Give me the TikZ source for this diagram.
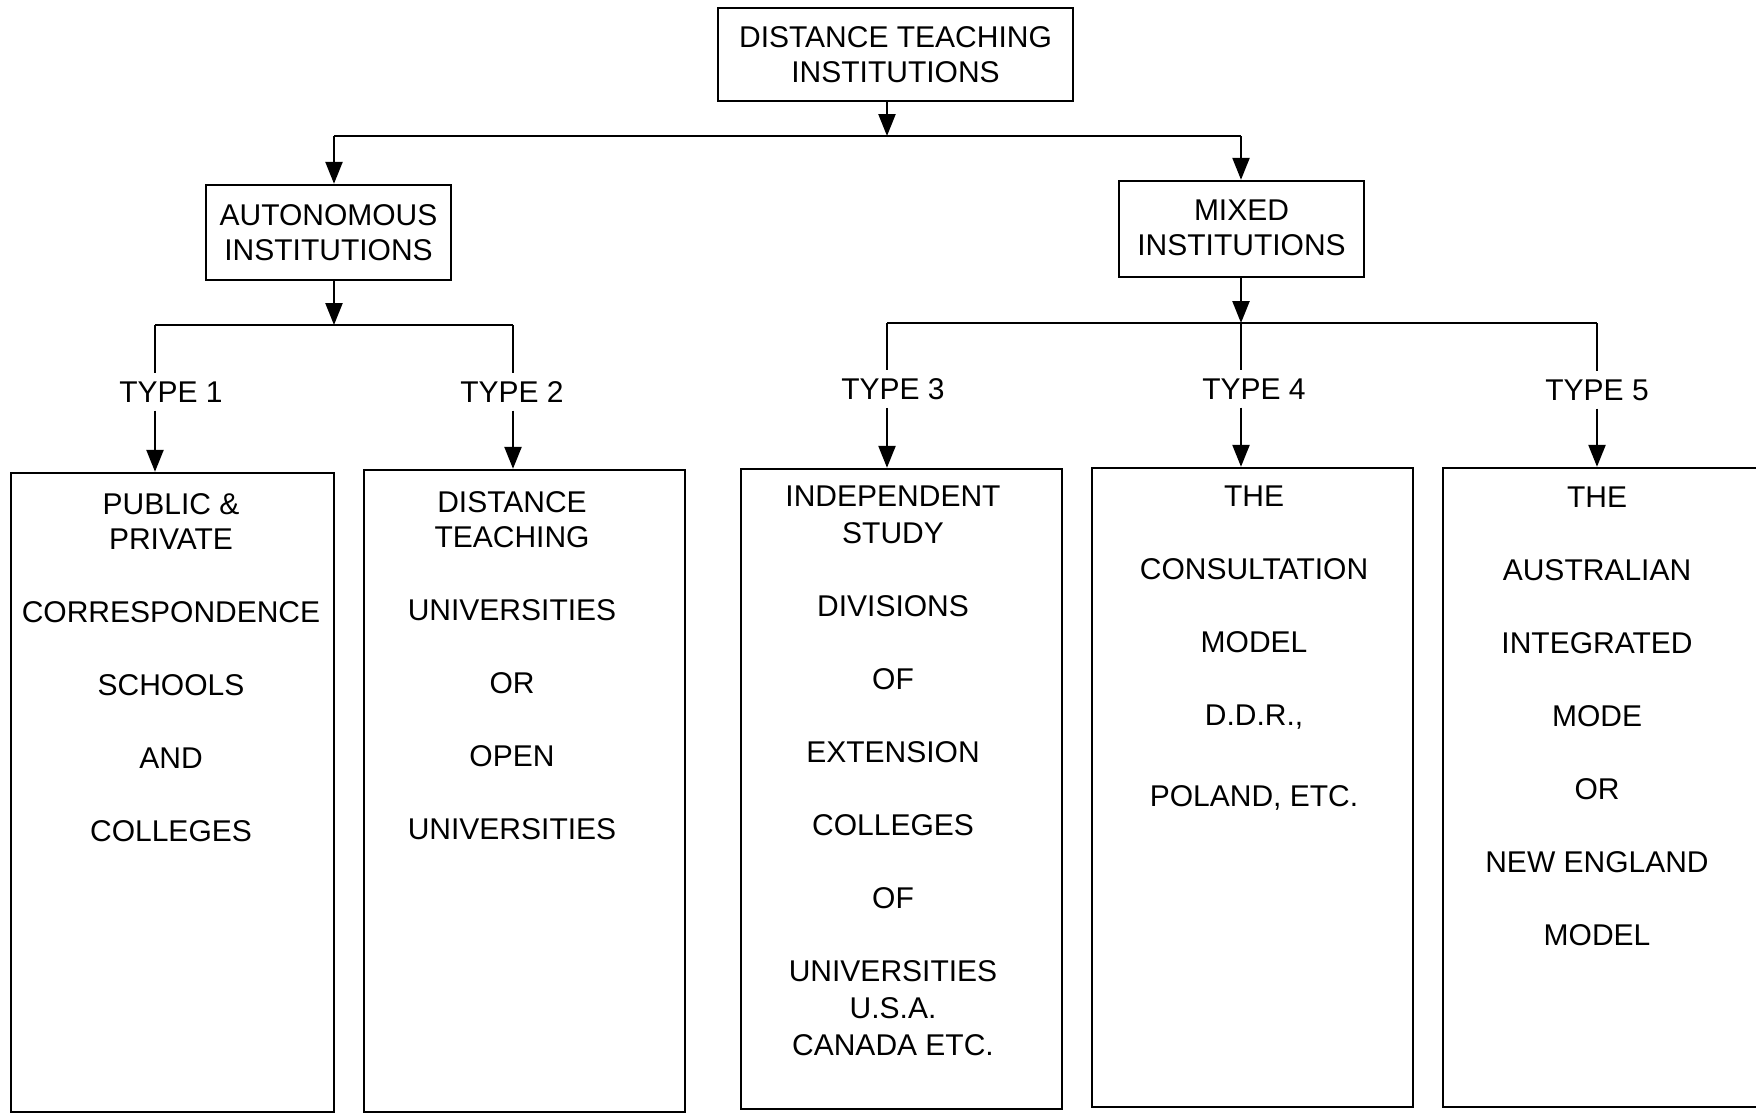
\documentclass[tikz,border=0pt]{standalone}
\usepackage{fontspec}
\setmainfont{Liberation Sans}
\usetikzlibrary{arrows.meta}
\begin{document}
\begin{tikzpicture}[x=1pt,y=-1pt,
  frame/.style={draw, line width=2.4pt, inner sep=0pt, align=center,
                font=\fontsize{30}{35}\selectfont},
  txt/.style={inner sep=0pt, align=center, anchor=north,
              font=\fontsize{30}{35}\selectfont},
  tag/.style={inner xsep=0pt, inner ysep=8pt, font=\fontsize{30}{35}\selectfont},
  link/.style={line width=2.4pt},
  arr/.style={link, -{Triangle[length=22pt,width=17pt]}}]
\useasboundingbox (0,0) rectangle (1756,1116);
\clip (0,0) rectangle (1756,1116);

% heading boxes
\node[frame, minimum width=355pt, minimum height=93pt] (root) at (895.5,54.5)
  {DISTANCE TEACHING\\INSTITUTIONS};
\node[frame, minimum width=245pt, minimum height=95pt] (auto) at (328.5,232.5)
  {AUTONOMOUS\\INSTITUTIONS};
\node[frame, minimum width=245pt, minimum height=96pt] (mixed) at (1241.5,229)
  {\raisebox{3pt}{MIXED}\\\raisebox{3pt}{INSTITUTIONS}};

% type boxes
\node[frame, minimum width=323pt, minimum height=639pt] (b1) at (172.5,792.5) {};
\node[frame, minimum width=321pt, minimum height=642pt] (b2) at (524.5,791) {};
\node[frame, minimum width=321pt, minimum height=640pt] (b3) at (901.5,789) {};
\node[frame, minimum width=321pt, minimum height=639pt] (b4) at (1252.5,787.5) {};
\node[frame, minimum width=321pt, minimum height=639pt] (b5) at (1603.5,787.5) {};

% type labels
\node[tag] (t1) at (171,392) {TYPE 1};
\node[tag] (t2) at (512,392) {TYPE 2};
\node[tag] (t3) at (893,389) {TYPE 3};
\node[tag] (t4) at (1254,389) {TYPE 4};
\node[tag] (t5) at (1597,390) {TYPE 5};

% box contents
\node[txt] (b1t) at (171,493) {PUBLIC \&\\PRIVATE\\[38pt]CORRESPONDENCE\\[38pt]SCHOOLS\\[38pt]AND\\[38pt]COLLEGES};
\node[txt] (b2t) at (512,491) {DISTANCE\\TEACHING\\[38pt]UNIVERSITIES\\[38pt]OR\\[38pt]OPEN\\[38pt]UNIVERSITIES};
\node[txt] (b3t) at (893,486) {INDEPENDENT\\[2pt]STUDY\\[38pt]DIVISIONS\\[38pt]OF\\[38pt]EXTENSION\\[38pt]COLLEGES\\[38pt]OF\\[38pt]UNIVERSITIES\\[2pt]U.S.A.\\[2pt]CANADA ETC.};
\node[txt] (b4t) at (1254,486) {THE\\[38pt]CONSULTATION\\[38pt]MODEL\\[38pt]D.D.R.,\\[46pt]POLAND, ETC.};
\node[txt] (b5t) at (1597,487) {THE\\[38pt]AUSTRALIAN\\[38pt]INTEGRATED\\[38pt]MODE\\[38pt]OR\\[38pt]NEW ENGLAND\\[38pt]MODEL};

% junction points
\coordinate (j0) at (887,136);
\coordinate (ja) at (334,136);
\coordinate (jm) at (1241,136);
\coordinate (ka) at (334,325);
\coordinate (k1) at (155,325);
\coordinate (k2) at (513,325);
\coordinate (km) at (1241,323);
\coordinate (k3) at (887,323);
\coordinate (k4) at (1241,323);
\coordinate (k5) at (1597,323);

% first level
\draw[arr] (root.south -| j0) -- (j0);
\draw[link] (ja) -- (jm);
\draw[arr] (ja) -- (ja |- auto.north);
\draw[arr] (jm) -- (jm |- mixed.north);

% autonomous branch
\draw[arr] (auto.south -| ka) -- (ka);
\draw[link] (k1) -- (k2);
\draw[link] (k1) -- (k1 |- t1.north);
\draw[arr] (k1 |- t1.south) -- (k1 |- b1.north);
\draw[link] (k2) -- (k2 |- t2.north);
\draw[arr] (k2 |- t2.south) -- (k2 |- b2.north);

% mixed branch
\draw[arr] (mixed.south -| km) -- (km);
\draw[link] (k3) -- (k5);
\draw[link] (k3) -- (k3 |- t3.north);
\draw[arr] (k3 |- t3.south) -- (k3 |- b3.north);
\draw[link] (k4) -- (k4 |- t4.north);
\draw[arr] (k4 |- t4.south) -- (k4 |- b4.north);
\draw[link] (k5) -- (k5 |- t5.north);
\draw[arr] (k5 |- t5.south) -- (k5 |- b5.north);
\end{tikzpicture}
\end{document}
